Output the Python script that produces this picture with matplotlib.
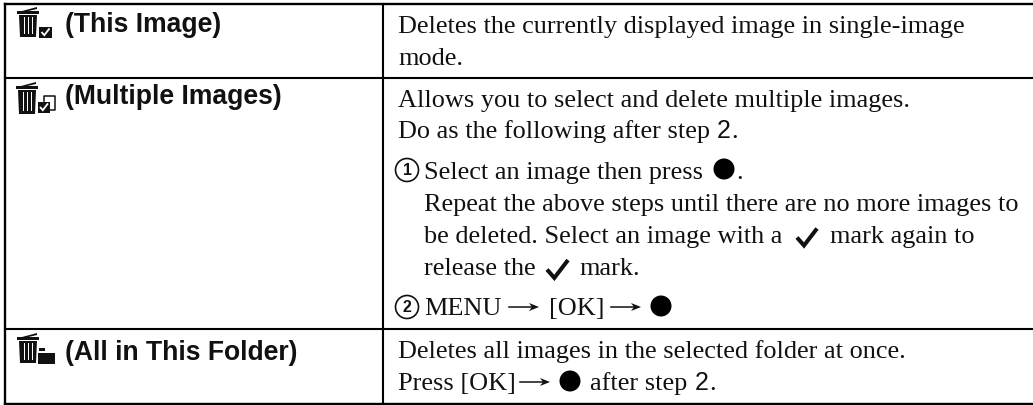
import matplotlib
matplotlib.use('Agg')
import matplotlib.pyplot as plt
from matplotlib.patches import Rectangle, Circle, Polygon

labels = ['(This Image)', '(Multiple Images)', '(All in This Folder)']
label_y = [32, 104, 360]
row_lines = [78, 329]

# text lines of the right column: x, baseline y, string
desc_lines = [
    (398, 33, 'Deletes the currently displayed image in single-image'),
    (398, 65, 'mode.'),
    (398, 107, 'Allows you to select and delete multiple images.'),
    (398, 138, 'Do as the following after step'),
    (424, 179, 'Select an image then press'),
    (424, 211, 'Repeat the above steps until there are no more images to'),
    (424, 243, 'be deleted. Select an image with a'),
    (424, 275, 'release the'),
    (398, 358, 'Deletes all images in the selected folder at once.'),
    (398, 390, 'Press [OK]'),
]

SERIF = 'Liberation Serif'
SANS = 'Liberation Sans'
FS = 18.9
INK = '#111111'

fig = plt.figure(figsize=(10.33, 4.05), dpi=100)
ax = fig.add_axes([0, 0, 1, 1])
ax.set_xlim(0, 1033)
ax.set_ylim(405, 0)
ax.axis('off')


def serif(x, y, s):
    ax.text(x, y, s, family=SERIF, fontsize=FS, color=INK, va='baseline', ha='left')


def step_no(x, y):
    ax.text(x, y, '2', family=SANS, fontsize=FS - 1, color=INK, va='baseline', ha='left')
    serif(x + 14, y, '.')


def trash(x, y, h):
    # x, y = left / top of the lid
    ax.add_patch(Polygon([(x + 5, y + 4), (x + 20, y), (x + 20, y + 2), (x + 5, y + 5.5)], fc=INK, ec='none'))
    ax.add_patch(Rectangle((x, y + 4), 22, 2.5, fc=INK, ec='none'))
    ax.add_patch(Polygon([(x + 2, y + 8), (x + 20, y + 8), (x + 19, y + h), (x + 3, y + h)], fc=INK, ec='none'))
    for dx in [6.5, 10.5, 14.5]:
        ax.add_patch(Rectangle((x + dx, y + 10), 1.3, h - 13, fc='white', ec='none'))


def check(x, y, w, lw=2.5, color=INK):
    ax.plot([x, x + w * 0.35, x + w], [y, y + w * 0.4, y - w * 0.45], color=color, lw=lw,
            solid_capstyle='butt', solid_joinstyle='miter')


def dot(x, y):
    ax.add_patch(Circle((x, y), 10.5, fc='black', ec='none'))


def arrow(x, y):
    ax.plot([x, x + 24], [y, y], color=INK, lw=1.1)
    ax.add_patch(Polygon([(x + 20, y - 4), (x + 30, y), (x + 20, y + 4), (x + 23, y)], fc=INK, ec='none'))


def circled(x, y, s):
    ax.add_patch(Circle((x, y), 11.5, fc='white', ec=INK, lw=1.2))
    ax.text(x, y + 0.5, s, family=SANS, fontsize=11.5, fontweight='bold', color=INK, ha='center', va='center')


# table frame, open on the right
for x0, y0, x1, y1, lw in [(5, 4, 1033, 4, 1.7), (5, 404, 1033, 404, 1.7), (5, 4, 5, 404, 1.7),
                           (383, 4, 383, 404, 1.5)]:
    ax.plot([x0, x1], [y0, y1], color='black', lw=lw, solid_capstyle='projecting')
for y in row_lines:
    ax.plot([5, 1033], [y, y], color='black', lw=1.5, solid_capstyle='butt')

# left column
for s, y in zip(labels, label_y):
    ax.text(65, y, s, family=SANS, fontsize=19.1, fontweight='bold', color=INK, va='baseline', ha='left')

trash(17, 7, 30)
ax.add_patch(Rectangle((39, 27), 13, 11, fc=INK, ec='none'))
check(41.5, 32, 8, lw=1.3, color='white')

trash(16, 82, 32)
ax.plot([43.5, 43.5, 54.5, 54.5, 50], [101, 95.5, 95.5, 110, 110], color=INK, lw=1.1)
ax.add_patch(Rectangle((38, 102), 12, 11, fc=INK, ec='none'))
check(40, 107, 8, lw=1.3, color='white')

trash(17, 333, 30)
ax.add_patch(Rectangle((38, 353), 17, 11, fc=INK, ec='none'))
ax.add_patch(Rectangle((39, 348), 6, 3, fc=INK, ec='none'))

# right column
for x, y, s in desc_lines:
    serif(x, y, s)

step_no(717, 138)
circled(407, 170, '1')
circled(407, 307, '2')
dot(724, 169)
serif(736, 179, '.')
check(797, 237.5, 20, lw=2.9)
serif(830, 243, 'mark again to')
check(547, 269.5, 21, lw=2.9)
serif(579, 275, 'mark.')
serif(424, 315, 'MENU')
arrow(509, 307)
serif(549, 315, '[OK]')
arrow(611, 307)
dot(661, 306)
arrow(520, 382)
dot(570, 381)
serif(590, 390, 'after step')
step_no(695, 390)

fig.savefig('out.png', dpi=100)
